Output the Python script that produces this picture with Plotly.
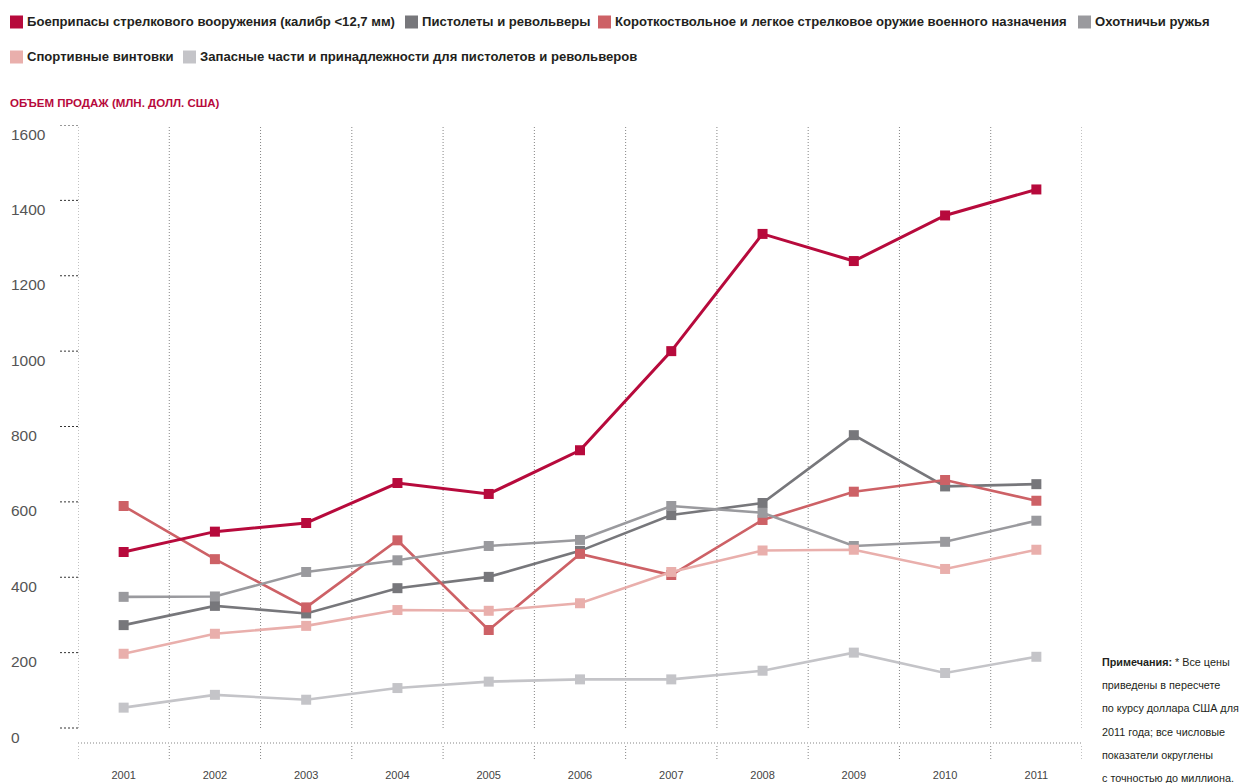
import plotly.graph_objects as go

# ---------------- data ----------------
years = [2001, 2002, 2003, 2004, 2005, 2006, 2007, 2008, 2009, 2010, 2011]
year_labels = [str(y) for y in years]

ammo = [467, 521, 544, 650, 621, 737, 1000, 1311, 1239, 1360, 1429]
pistols = [273, 324, 304, 371, 401, 470, 565, 597, 777, 641, 647]
military = [589, 448, 320, 498, 260, 462, 406, 552, 627, 658, 603]
hunting = [348, 349, 414, 445, 483, 499, 589, 571, 483, 494, 550]
sporting = [197, 250, 271, 313, 311, 331, 414, 471, 473, 422, 473]
parts = [54, 88, 75, 106, 123, 129, 129, 152, 200, 146, 189]

y_ticks = [0, 200, 400, 600, 800, 1000, 1200, 1400, 1600]
y_tick_labels = [str(v) for v in y_ticks]

names = [
    "Боеприпасы стрелкового вооружения (калибр <12,7 мм)",
    "Пистолеты и револьверы",
    "Короткоствольное и легкое стрелковое оружие военного назначения",
    "Охотничьи ружья",
    "Спортивные винтовки",
    "Запасные части и принадлежности для пистолетов и револьверов",
]
colors = ["#B70A3C", "#77777B", "#CD6166", "#9A9A9E", "#E9AFAC", "#C4C4C8"]
series = [ammo, pistols, military, hunting, sporting, parts]

title_text = "ОБЪЕМ ПРОДАЖ (МЛН. ДОЛЛ. США)"
note_lines = [
    "<b>Примечания:</b> * Все цены",
    "приведены в пересчете",
    "по курсу доллара США для",
    "2011 года; все числовые",
    "показатели округлены",
    "с точностью до миллиона.",
]

# ---------------- layout geometry (screen pixels of the reference) ----------------
OFF = 8                      # page body margin
W, H = 1252, 783
L, R, T, B = 78, 1082, 125, 743
ZERO_PX = 728
PW, PH = R - L, B - T
px_per_unit = (ZERO_PX - T) / 1600.0
y_bottom = -(B - ZERO_PX) / px_per_unit

FONT = "Liberation Sans, Arial, sans-serif"


def px_x(px):
    return (px - L) / PW


def px_y(py):
    return (B - py) / PH


fig = go.Figure()

# draw order (bottom to top)
draw_order = [1, 2, 3, 4, 5, 0]
for i in draw_order:
    fig.add_trace(go.Scatter(
        x=years, y=series[i], name=names[i], mode="lines+markers",
        line=dict(color=colors[i], width=3 if i == 0 else 2.6),
        marker=dict(symbol="square", size=10, color=colors[i]),
        showlegend=False,
    ))

shapes = []
# vertical dotted gridlines between years
for k in range(len(years) + 1):
    gx = years[0] - 0.5 + k
    shapes.append(dict(type="line", xref="x", yref="y", x0=gx, x1=gx, y0=0, y1=1600,
                       line=dict(color="#858585", width=1, dash="1px,2px"), layer="below"))
    # tick marks below the axis
    shapes.append(dict(type="line", xref="x", yref="paper", x0=gx, x1=gx,
                       y0=-3 / PH, y1=-17 / PH,
                       line=dict(color="#858585", width=1, dash="1px,2px")))
# horizontal dotted axis line
shapes.append(dict(type="line", xref="paper", yref="paper", x0=0, x1=1, y0=0, y1=0,
                   line=dict(color="#858585", width=1, dash="1px,2px")))
# y tick marks
for v in y_ticks:
    shapes.append(dict(type="line", xref="paper", yref="y", x0=-18 / PW, x1=0, y0=v, y1=v,
                       line=dict(color="#333333", width=1, dash="2px,2px")))

annotations = []
# y tick labels (left aligned)
for v, lab in zip(y_ticks, y_tick_labels):
    annotations.append(dict(xref="paper", yref="y", x=px_x(9), y=v, text=lab,
                            xanchor="left", yanchor="middle", yshift=-9, showarrow=False,
                            font=dict(family=FONT, size=15.5, color="#555555")))

# legend (manual)
legend_items = [
    (0, 10, 22), (1, 405, 22), (2, 598, 22), (3, 1078, 22),
    (4, 10, 57), (5, 183, 57),
]
for idx, sx, cy in legend_items:
    shapes.append(dict(type="rect", xref="paper", yref="paper",
                       x0=px_x(sx), x1=px_x(sx + 13), y0=px_y(cy + 6.5), y1=px_y(cy - 6.5),
                       fillcolor=colors[idx], line=dict(width=0)))
    annotations.append(dict(xref="paper", yref="paper", x=px_x(sx + 15), y=px_y(cy),
                            text="<b>" + names[idx] + "</b>", xanchor="left", yanchor="middle",
                            showarrow=False, font=dict(family=FONT, size=13.1, color="#231F20")))

# axis title
annotations.append(dict(xref="paper", yref="paper", x=px_x(8), y=px_y(103),
                        text="<b>" + title_text + "</b>", xanchor="left", yanchor="middle",
                        showarrow=False, font=dict(family=FONT, size=11.5, color=colors[0])))

# note
for j, line in enumerate(note_lines):
    annotations.append(dict(xref="paper", yref="paper", x=px_x(1100), y=px_y(662 + j * 23.2),
                            text=line, xanchor="left", yanchor="middle", showarrow=False,
                            font=dict(family=FONT, size=10.8, color="#231F20")))

fig.update_layout(
    width=W - OFF, height=H - OFF,
    margin=dict(l=L - OFF, r=W - R, t=T - OFF, b=H - B, pad=0, autoexpand=False),
    paper_bgcolor="white", plot_bgcolor="white",
    shapes=shapes, annotations=annotations,
    xaxis=dict(range=[years[0] - 0.5, years[-1] + 0.5], tickvals=years, ticktext=year_labels,
               showgrid=False, zeroline=False, showline=False, ticks="",
               automargin=False, ticklabelstandoff=24,
               tickfont=dict(family=FONT, size=11, color="#444444")),
    yaxis=dict(range=[y_bottom, 1600], showgrid=False, zeroline=False, showline=False,
               showticklabels=False, ticks="", automargin=False),
    font=dict(family=FONT),
)

fig.write_html("out.html")
